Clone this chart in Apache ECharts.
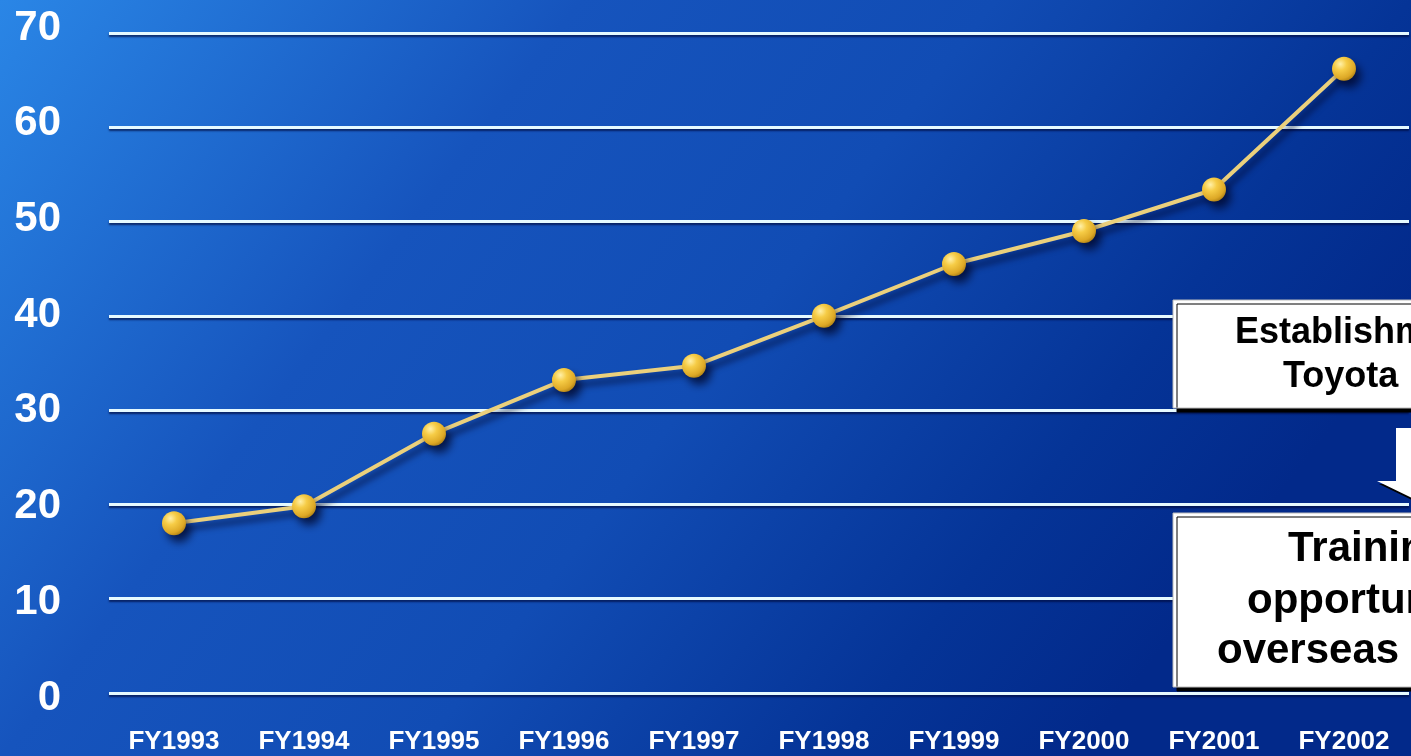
<!DOCTYPE html>
<html>
<head>
<meta charset="utf-8">
<script src="https://cdn.jsdelivr.net/npm/echarts@6/dist/echarts.min.js"></script>
<style>
html,body{margin:0;padding:0;background:#1552BA;}
#chart{width:1411px;height:756px;}
</style>
</head>
<body>
<div id="chart"></div>
<script>
const categories = ['FY1993','FY1994','FY1995','FY1996','FY1997','FY1998','FY1999','FY2000','FY2001','FY2002'];
const values = [18, 19.8, 27.5, 33.2, 34.7, 40.0, 45.5, 49.0, 53.4, 66.2];
const yTicks = [0, 10, 20, 30, 40, 50, 60, 70];
const box1Lines = ['Establishment', 'Toyota'];
const box2Lines = ['Training', 'opportunities', 'overseas'];

const chart = echarts.init(document.getElementById('chart'), null, {renderer: 'canvas'});
const FONT = '"Liberation Sans", Arial, sans-serif';

const shadowBox = {shadowColor: '#000', shadowBlur: 0, shadowOffsetX: 4, shadowOffsetY: 4};

const option = {
  animation: false,
  graphic: [
    {
      type: 'rect', z: -10, silent: true,
      shape: {x: 0, y: 0, width: 1411, height: 756},
      style: {
        fill: new echarts.graphic.LinearGradient(0, 0, 1046, 801, [
          {offset: 0, color: '#2A86E6'},
          {offset: 0.35, color: '#1654BD'},
          {offset: 0.6, color: '#114CB4'},
          {offset: 0.85, color: '#053497'},
          {offset: 1.0, color: '#02298A'}
        ], true)
      }
    },
    {
      type: 'rect', z: 10, silent: true,
      shape: {x: 1173, y: 300, width: 300, height: 108},
      style: Object.assign({fill: '#fff', stroke: '#bbb', lineWidth: 1}, shadowBox)
    },
    {
      type: 'text', z: 11, silent: true,
      style: {x: 1235, y: 333, text: box1Lines[0], fill: '#000', font: 'bold 36px ' + FONT, textVerticalAlign: 'middle'}
    },
    {
      type: 'text', z: 11, silent: true,
      style: {x: 1283, y: 377, text: box1Lines[1], fill: '#000', font: 'bold 36px ' + FONT, textVerticalAlign: 'middle'}
    },
    {
      type: 'polygon', z: 10, silent: true,
      shape: {points: [[1396,428],[1524,428],[1524,481],[1544,481],[1460,521],[1377,481],[1396,481]]},
      style: {fill: '#fff', shadowColor: '#000', shadowBlur: 0, shadowOffsetX: 2, shadowOffsetY: 3}
    },
    {
      type: 'rect', z: 10, silent: true,
      shape: {x: 1173, y: 513, width: 300, height: 174},
      style: Object.assign({fill: '#fff', stroke: '#bbb', lineWidth: 1}, shadowBox)
    },
    {
      type: 'text', z: 11, silent: true,
      style: {x: 1288, y: 549, text: box2Lines[0], fill: '#000', font: 'bold 42px ' + FONT, textVerticalAlign: 'middle'}
    },
    {
      type: 'text', z: 11, silent: true,
      style: {x: 1247, y: 601, text: box2Lines[1], fill: '#000', font: 'bold 42px ' + FONT, textVerticalAlign: 'middle'}
    },
    {
      type: 'text', z: 11, silent: true,
      style: {x: 1217, y: 651, text: box2Lines[2], fill: '#000', font: 'bold 42px ' + FONT, textVerticalAlign: 'middle'}
    }
  ],
  grid: [
    {left: 109, right: 2, top: 33, bottom: 63, containLabel: false},
    {left: 109, right: 2, top: 28, bottom: 58, containLabel: false}
  ],
  xAxis: [{
    type: 'category',
    gridIndex: 0,
    data: categories,
    boundaryGap: true,
    axisLine: {show: false},
    axisTick: {show: false},
    axisLabel: {
      color: '#fff', fontFamily: FONT, fontWeight: 'bold', fontSize: 26,
      margin: 36, lineHeight: 26, interval: 0
    },
    splitLine: {show: false}
  }, {
    type: 'category',
    gridIndex: 1,
    data: categories,
    show: false
  }],
  yAxis: [{
    type: 'value',
    gridIndex: 0,
    min: yTicks[0], max: yTicks[yTicks.length - 1], interval: 10,
    axisLine: {show: false},
    axisTick: {show: false},
    axisLabel: {show: false},
    splitLine: {
      show: true,
      lineStyle: {color: '#E6FAFF', width: 3, shadowColor: 'rgba(0,10,60,0.7)', shadowBlur: 2, shadowOffsetY: 2}
    }
  }, {
    type: 'value',
    gridIndex: 1,
    min: yTicks[0], max: yTicks[yTicks.length - 1], interval: 10,
    axisLine: {show: false},
    axisTick: {show: false},
    splitLine: {show: false},
    axisLabel: {
      color: '#fff', fontFamily: FONT, fontWeight: 'bold', fontSize: 42,
      margin: 48,
      formatter: function (v) { return yTicks.indexOf(v) >= 0 ? String(v) : ''; }
    }
  }],
  series: [{
    type: 'line',
    xAxisIndex: 0,
    yAxisIndex: 0,
    data: values,
    symbol: 'circle',
    symbolSize: 24,
    z: 5,
    lineStyle: {
      color: '#EBD07C', width: 4,
      shadowColor: 'rgba(0,5,40,0.65)', shadowBlur: 6, shadowOffsetX: 4, shadowOffsetY: 6
    },
    itemStyle: {
      color: new echarts.graphic.RadialGradient(0.35, 0.3, 0.75, [
        {offset: 0, color: '#FFF0A8'},
        {offset: 0.35, color: '#F6CC46'},
        {offset: 0.8, color: '#DDA826'},
        {offset: 1, color: '#B08216'}
      ]),
      borderWidth: 0,
      shadowColor: 'rgba(0,5,40,0.75)', shadowBlur: 8, shadowOffsetX: 5, shadowOffsetY: 7
    },
    emphasis: {disabled: true}
  }]
};
chart.setOption(option);
</script>
</body>
</html>
